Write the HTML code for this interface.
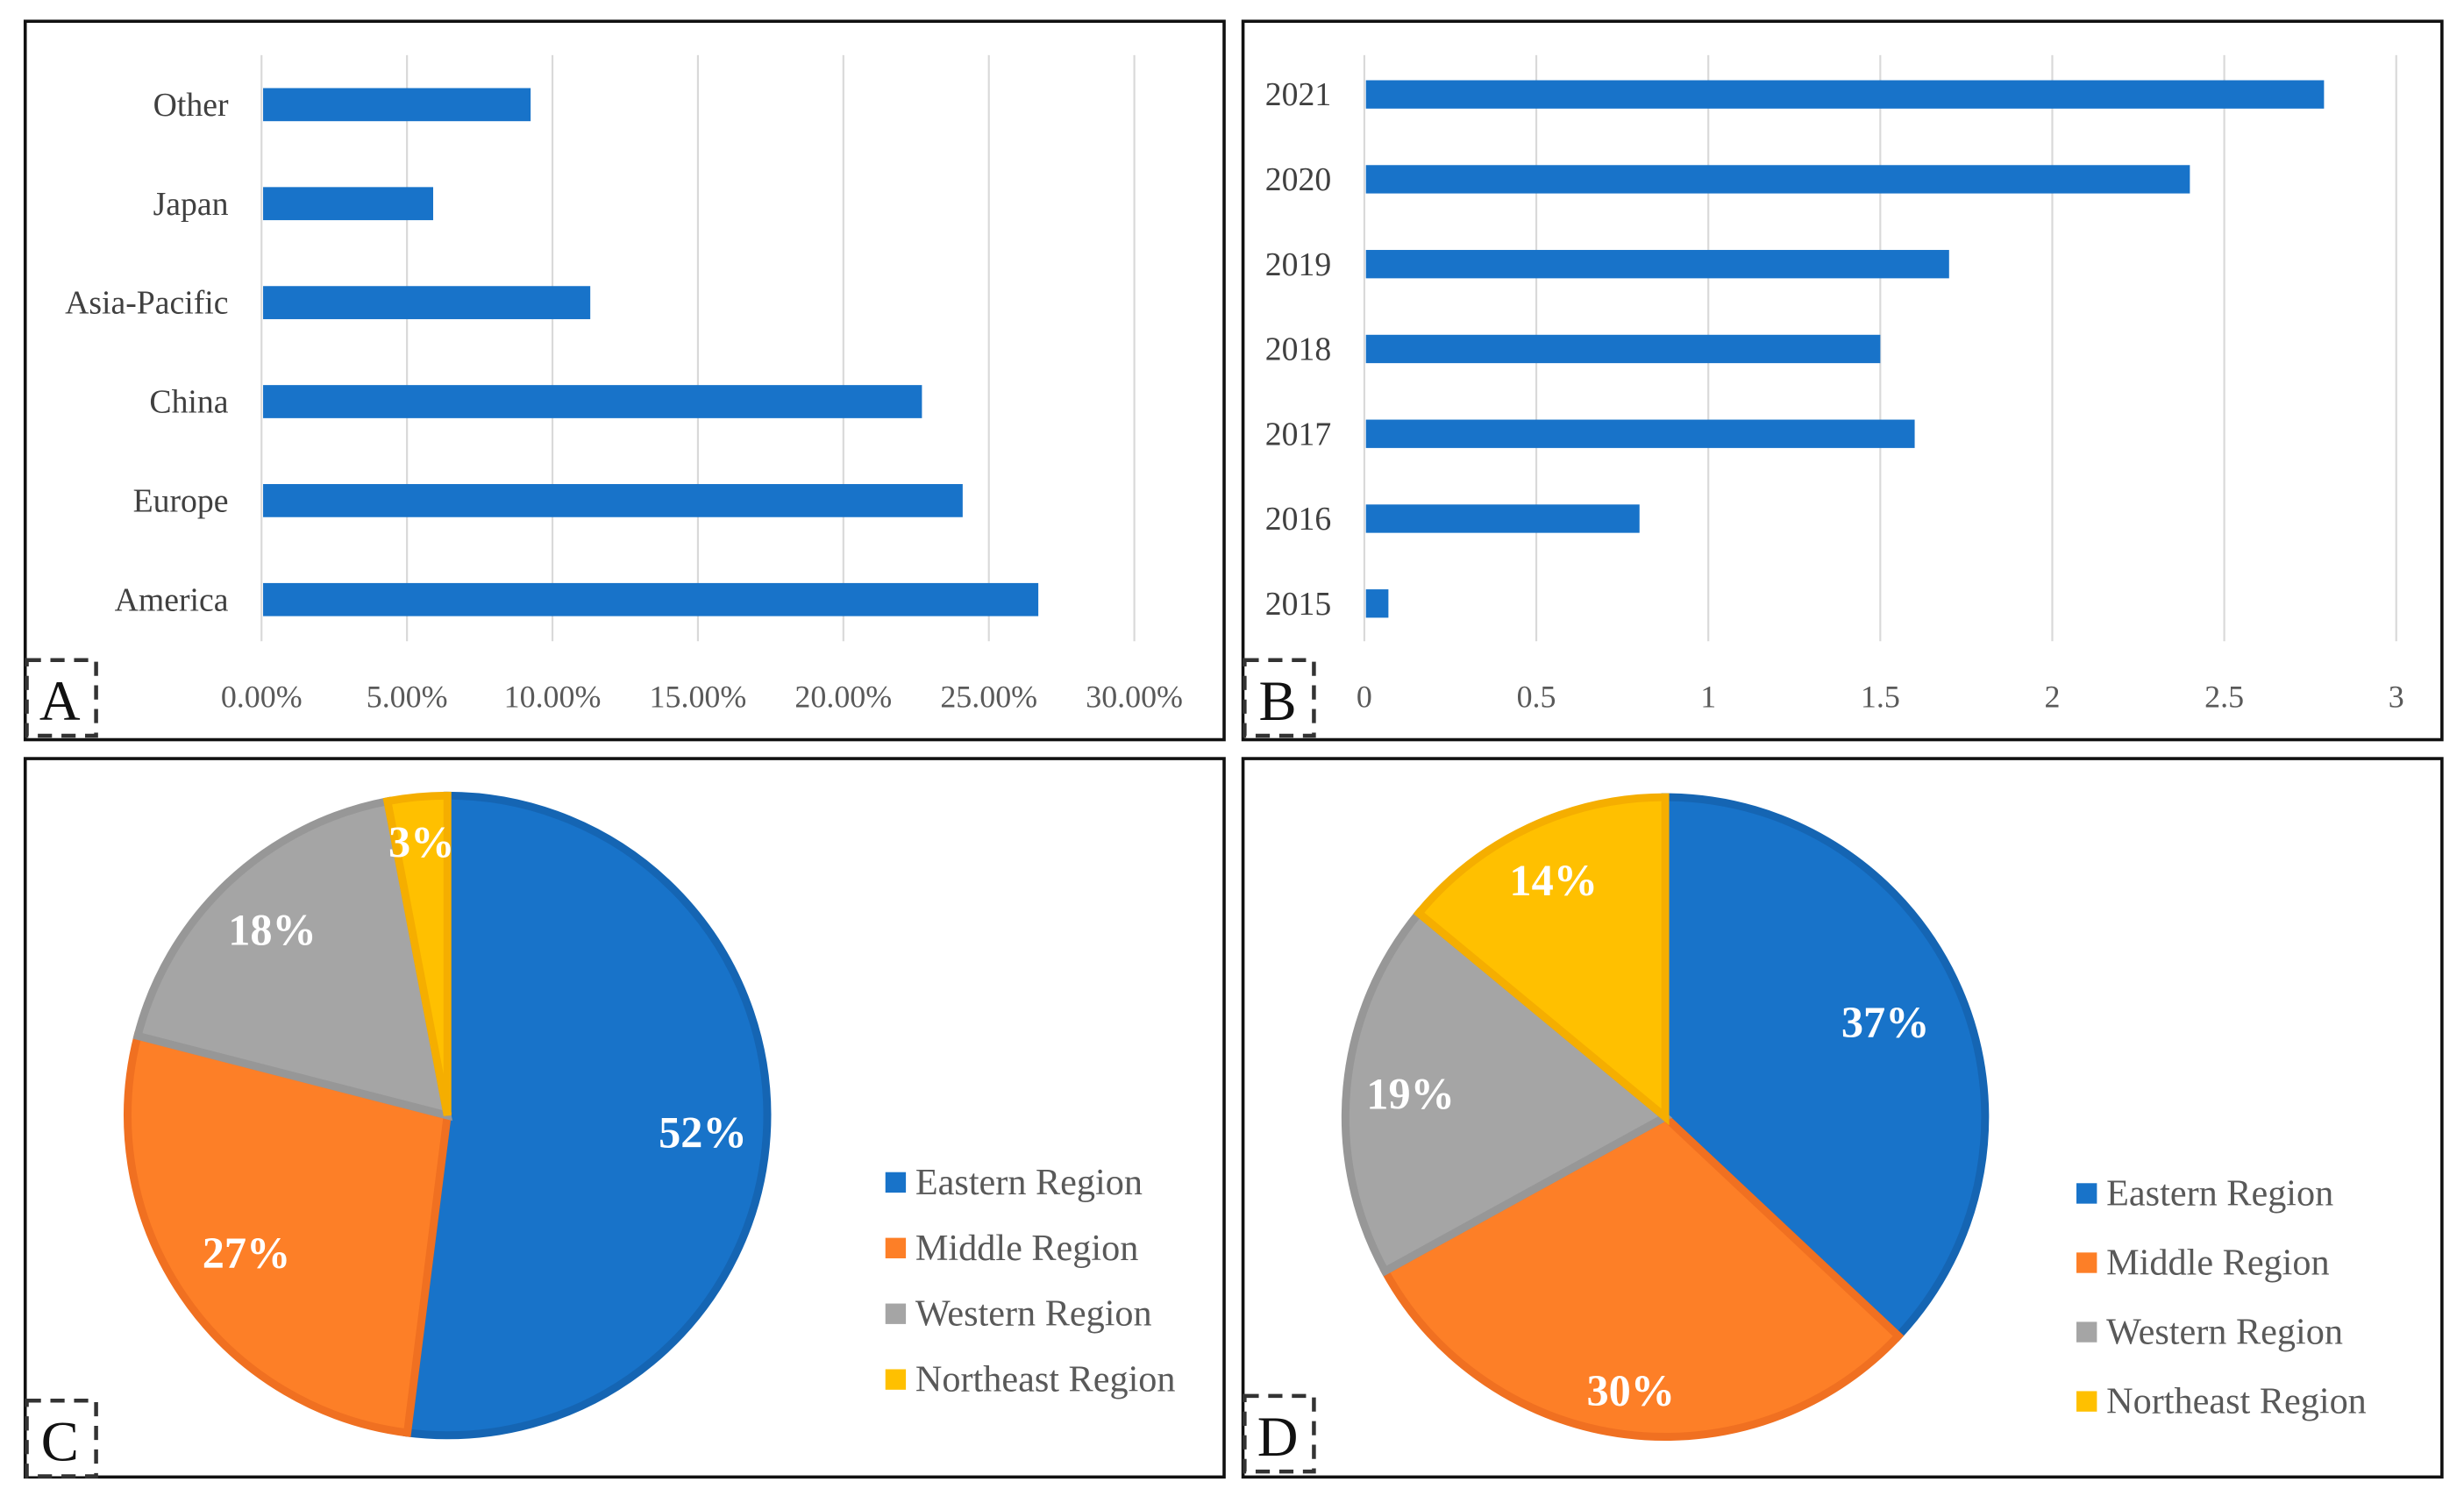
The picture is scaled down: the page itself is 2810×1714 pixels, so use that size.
<!DOCTYPE html>
<html><head><meta charset="utf-8"><style>
html,body{margin:0;padding:0;background:#fff;width:2810px;height:1714px;overflow:hidden}
svg{display:block}
text{font-family:"Liberation Serif",serif}
</style></head><body>
<svg id="s" width="2810" height="1714" viewBox="0 0 1564 954" preserveAspectRatio="none" xmlns="http://www.w3.org/2000/svg">
<g id="frames">
<rect x="16" y="13.5" width="761" height="456" fill="none" stroke="#111" stroke-width="2"/>
<rect x="789" y="13.5" width="761" height="456" fill="none" stroke="#111" stroke-width="2"/>
<rect x="16" y="481.5" width="761" height="456" fill="none" stroke="#111" stroke-width="2"/>
<rect x="789" y="481.5" width="761" height="456" fill="none" stroke="#111" stroke-width="2"/>
</g>
<g id="gA"></g>
<g id="gB"></g>
<g id="gC"></g>
<g id="gD"></g>
<g id="letters"></g>
</svg>
<script>
const catsA = ["America","Europe","China","Asia-Pacific","Japan","Other"];
const valsA = [26.7,24.1,22.7,11.3,5.9,9.25];
const ticksA = [0,5,10,15,20,25,30];
const tickLabelsA = ["0.00%","5.00%","10.00%","15.00%","20.00%","25.00%","30.00%"];

const catsB = ["2015","2016","2017","2018","2019","2020","2021"];
const valsB = [0.07,0.80,1.60,1.50,1.70,2.40,2.79];
const ticksB = [0,0.5,1,1.5,2,2.5,3];
const tickLabelsB = ["0","0.5","1","1.5","2","2.5","3"];

const regions = ["Eastern Region","Middle Region","Western Region","Northeast Region"];
const valsC = [52,27,18,3];
const valsD = [37,30,19,14];

const NS="http://www.w3.org/2000/svg";
function mk(parent,tag,attrs,txt){const e=document.createElementNS(NS,tag);for(const k in attrs)e.setAttribute(k,attrs[k]);if(txt!==undefined)e.textContent=txt;parent.appendChild(e);return e;}

function barChart(g,cats,vals,ticks,tlabels,x0,x1,vmax,yTop,yBot,labelX,prefix){
  const xs=v=>x0+(x1-x0)*v/vmax;
  const n=cats.length, step=(yBot-yTop)/n;
  const yc=i=>yBot-step*(i+0.5);
  ticks.forEach((t,i)=>{
    const l=mk(g,'line',{x1:xs(t),x2:xs(t),y1:35,y2:407,stroke:'#d9d9d9','stroke-width':1.2});
    
    
    const tx=mk(g,'text',{x:xs(t),y:449,'font-size':20,fill:'#595959','text-anchor':'middle'},tlabels[i]);
    
    
  });
  cats.forEach((c,i)=>{
    const r=mk(g,'rect',{x:x0+1,y:yc(i)-(prefix==='a'?10.5:9),width:Math.max(0,xs(vals[i])-x0-1),height:prefix==='a'?21:18,fill:'#1873C9'});
    
    
    const t=mk(g,'text',{x:labelX,y:yc(i)+7,'font-size':21,fill:'#404040','text-anchor':'end'},c);
    
    
  });
}
barChart(document.getElementById('gA'),catsA,valsA,ticksA,tickLabelsA,166,720,30,35,412,145,'a');
barChart(document.getElementById('gB'),catsB,valsB,ticksB,tickLabelsB,866,1521,3,33,410,845,'b');

const fills=['#1873C9','#FD7F27','#A5A5A5','#FFC000'];
const strokes=['#1565B3','#F07021','#979797','#F5AE00'];
function pie(g,vals,cx,cy,R,labelPos,legX,legY,legStep,prefix){
  const tot=vals.reduce((a,b)=>a+b,0);
  let a=-Math.PI/2;
  vals.forEach((v,i)=>{
    const a2=a+2*Math.PI*v/tot;
    const p=(ang)=>[cx+R*Math.cos(ang),cy+R*Math.sin(ang)];
    const [x1,y1]=p(a),[x2,y2]=p(a2);
    const large=(a2-a)>Math.PI?1:0;
    const path=mk(g,'path',{d:`M${cx},${cy} L${x1},${y1} A${R},${R} 0 ${large} 1 ${x2},${y2} Z`,fill:fills[i],stroke:strokes[i],'stroke-width':5,'stroke-linejoin':'miter'});
    
    
    const mid=(a+a2)/2, rr=R*labelPos[i];
    const t=mk(g,'text',{x:cx+rr*Math.cos(mid),y:cy+rr*Math.sin(mid)+10,'font-size':28,'font-weight':'bold',fill:'#fff','text-anchor':'middle'},v+'%');
    
    
    a=a2;
  });
  regions.forEach((r,i)=>{
    const y=legY+i*legStep;
    const sq=mk(g,'rect',{x:legX,y:y-7,width:13,height:13,fill:fills[i]});
    
    
    const t=mk(g,'text',{x:legX+19,y:y+7,'font-size':23.5,fill:'#595959'},r);
    
    
  });
}
pie(document.getElementById('gC'),valsC,284,708,203,[0.8,0.76,0.8,0.86],562,751,41.7,'c');
pie(document.getElementById('gD'),valsD,1057,709,203,[0.75,0.86,0.8,0.82],1318,758,44,'d');

const L=document.getElementById('letters');
[['A',17,419],['B',790,419],['C',17,889],['D',790,886]].forEach(([ch,x,y])=>{
  const b=mk(L,'rect',{x:x,y:y,width:44,height:48,fill:'#fff',stroke:'#333','stroke-width':2.5,'stroke-dasharray':'9,6'});
  
  
  const t=mk(L,'text',{x:x+21,y:y+38,'font-size':36,fill:'#111','text-anchor':'middle'},ch);
  
  
});
</script>
</body></html>
